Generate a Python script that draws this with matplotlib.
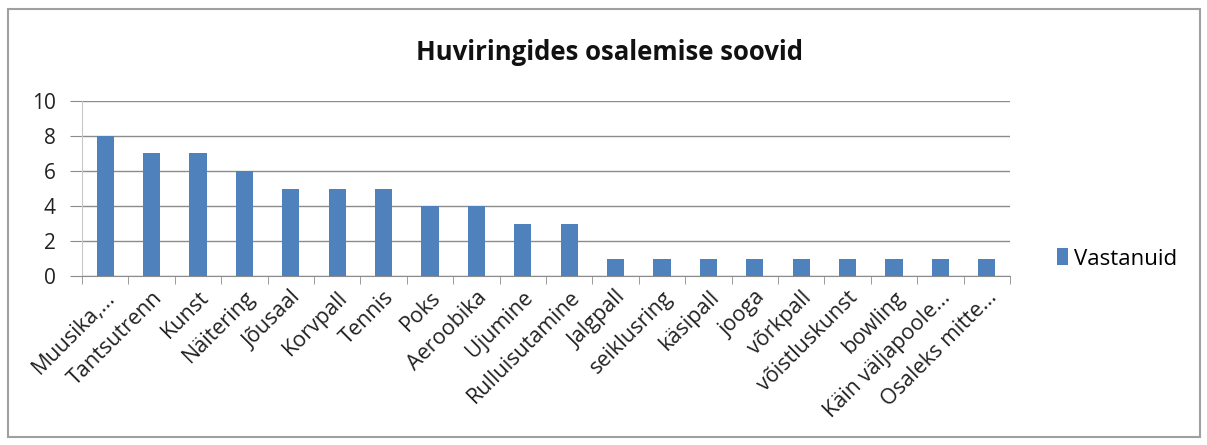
import matplotlib
matplotlib.use("Agg")
import matplotlib.pyplot as plt
from matplotlib.patches import Rectangle
import numpy as np

categories = ["Muusika,...", "Tantsutrenn", "Kunst", "Näitering", "Jõusaal", "Korvpall",
              "Tennis", "Poks", "Aeroobika", "Ujumine", "Rulluisutamine", "Jalgpall",
              "seiklusring", "käsipall", "jooga", "võrkpall", "võistluskunst", "bowling",
              "Käin väljapoole...", "Osaleks mitte..."]
values = [8, 7, 7, 6, 5, 5, 5, 4, 4, 3, 3, 1, 1, 1, 1, 1, 1, 1, 1, 1]
series_name = "Vastanuid"
title = "Huviringides osalemise soovid"
yticks = [0, 2, 4, 6, 8, 10]

plt.rcParams['font.family'] = ['Open Sans', 'DejaVu Sans']

fig = plt.figure(figsize=(12.07, 4.45), dpi=100)
fig.patch.set_facecolor('white')
ax = fig.add_axes([82/1207, 1-276/445, 928/1207, 175/445])

x = np.arange(len(categories))
ax.bar(x, values, width=0.37, color='#4F81BD', label=series_name, zorder=3)

ax.set_xlim(-0.5, len(categories)-0.5)
ax.set_ylim(0, 10)
ax.set_yticks(yticks)
ax.set_yticklabels([str(v) for v in yticks], fontsize=15, color='#222222')
ax.yaxis.grid(True, color='#8c8c8c', linewidth=1, zorder=0)
ax.set_axisbelow(True)

ax.set_xticks(x)
ax.set_xticklabels(categories, rotation=45, ha='right', rotation_mode='anchor',
                   fontsize=15.5, color='#222222')
ax.tick_params(axis='x', which='major', length=0, pad=8)
ax.set_xticks(np.arange(-0.5, len(categories), 1), minor=True)
ax.tick_params(axis='x', which='minor', length=6, color='#8c8c8c', direction='out')
ax.tick_params(axis='y', length=9, color='#8c8c8c', direction='out', pad=10)

for s in ['top', 'right']:
    ax.spines[s].set_visible(False)
ax.spines['left'].set_color('#c8c8c8')
ax.spines['bottom'].set_color('#8c8c8c')

fig.text(609/1207, 1-52/445, title, ha='center', va='center', fontsize=18.5,
         fontweight='bold', color='#111111')

leg = fig.legend(loc='center left', bbox_to_anchor=(1037/1207, 1-259/445), frameon=False,
                 fontsize=16, handlelength=0.5, handleheight=0.8, handletextpad=0.25)

fig.patches.append(Rectangle((8/1207, 8/445), 1192/1207, 428/445, transform=fig.transFigure,
                             fill=False, edgecolor='#a0a0a0', linewidth=1.5))

fig.savefig('out.png', dpi=100)
